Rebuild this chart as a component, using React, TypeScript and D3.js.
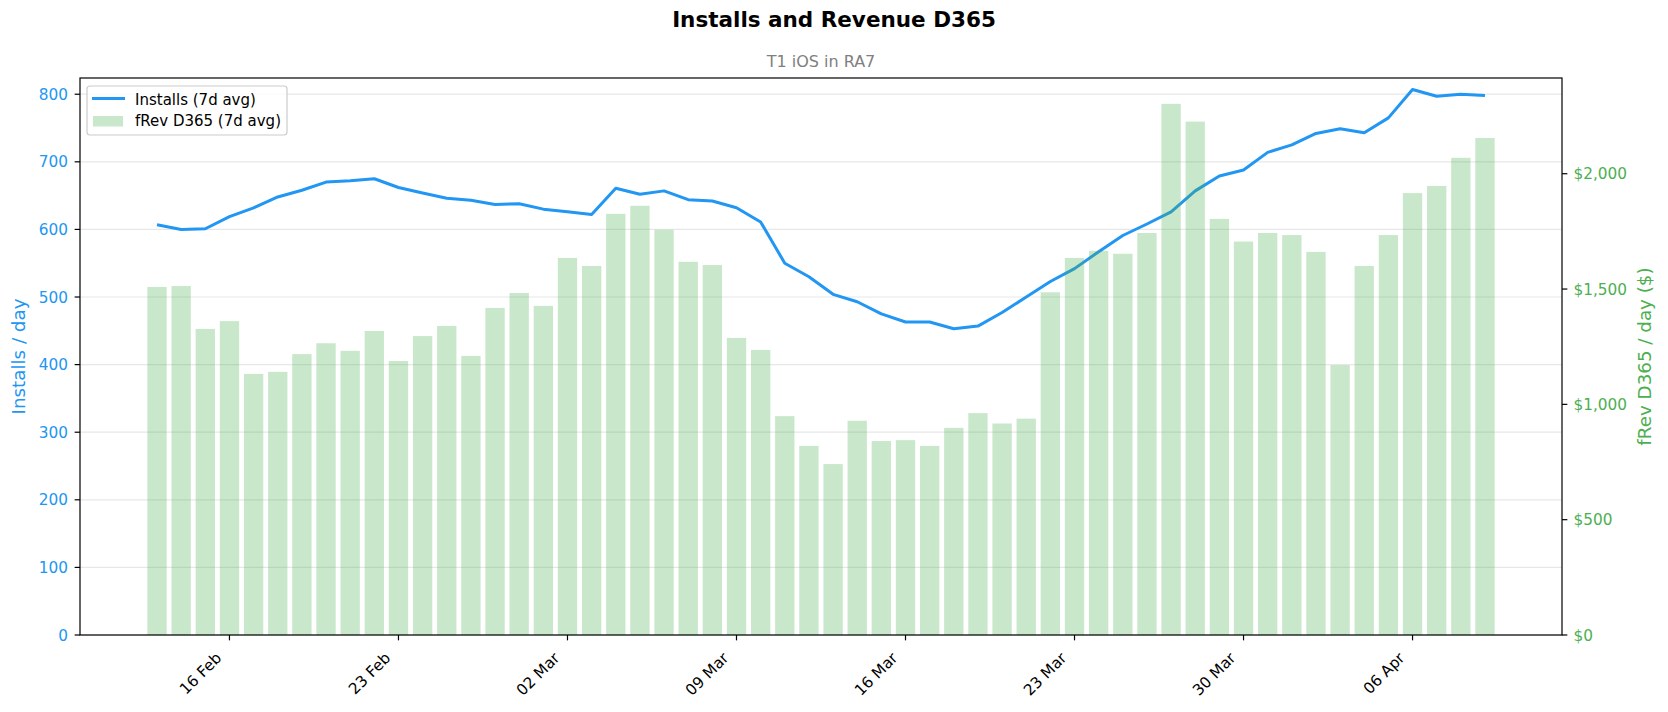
import React from "react";
import * as d3 from "d3";

const DATES = [
  "2025-02-13", "2025-02-14", "2025-02-15", "2025-02-16", "2025-02-17", "2025-02-18", "2025-02-19",
  "2025-02-20", "2025-02-21", "2025-02-22", "2025-02-23", "2025-02-24", "2025-02-25", "2025-02-26",
  "2025-02-27", "2025-02-28", "2025-03-01", "2025-03-02", "2025-03-03", "2025-03-04", "2025-03-05",
  "2025-03-06", "2025-03-07", "2025-03-08", "2025-03-09", "2025-03-10", "2025-03-11", "2025-03-12",
  "2025-03-13", "2025-03-14", "2025-03-15", "2025-03-16", "2025-03-17", "2025-03-18", "2025-03-19",
  "2025-03-20", "2025-03-21", "2025-03-22", "2025-03-23", "2025-03-24", "2025-03-25", "2025-03-26",
  "2025-03-27", "2025-03-28", "2025-03-29", "2025-03-30", "2025-03-31", "2025-04-01", "2025-04-02",
  "2025-04-03", "2025-04-04", "2025-04-05", "2025-04-06", "2025-04-07", "2025-04-08", "2025-04-09",
];

const INSTALLS = [
  607, 600, 601, 619, 632, 648, 658, 670, 672, 675, 662, 654, 646, 643,
  637, 638, 630, 626, 622, 661, 652, 657, 644, 642, 632, 611, 550, 530,
  504, 493, 475, 463, 463, 453, 457, 477, 500, 523, 542, 567, 591, 608,
  626, 657, 679, 688, 714, 725, 742, 749, 743, 765, 807, 797, 800, 798,
];

const REVENUE = [
  1509, 1513, 1327, 1361, 1132, 1141, 1218, 1265, 1232, 1318, 1188, 1296, 1340, 1210,
  1418, 1483, 1427, 1635, 1600, 1826, 1861, 1757, 1618, 1604, 1288, 1236, 949, 820,
  741, 929, 841, 845, 820, 898, 962, 917, 938, 1486, 1635, 1666, 1653, 1743,
  2303, 2226, 1804, 1706, 1743, 1734, 1661, 1170, 1600, 1734, 1916, 1947, 2069, 2155,
];

const X_TICKS = [
  "2025-02-16", "2025-02-23", "2025-03-02", "2025-03-09",
  "2025-03-16", "2025-03-23", "2025-03-30", "2025-04-06",
];
const LEFT_TICKS = [0, 100, 200, 300, 400, 500, 600, 700, 800];
const RIGHT_TICKS = [0, 500, 1000, 1500, 2000];

const TITLE = "Installs and Revenue D365";
const SUBTITLE = "T1 iOS in RA7";
const LEFT_LABEL = "Installs / day";
const RIGHT_LABEL = "fRev D365 / day ($)";
const LEGEND_LINE = "Installs (7d avg)";
const LEGEND_BAR = "fRev D365 (7d avg)";

const W = 1668;
const H = 712;
const PLOT = { left: 80, right: 1562, top: 78, bottom: 635 };
const BLUE = "#2196F3";
const GREEN = "#4CAF50";
const FONT = "'DejaVu Sans', Verdana, sans-serif";
const DAY = 86400000;

const parse = d3.utcParse("%Y-%m-%d");
const fmtDate = d3.utcFormat("%d %b");
const fmtMoney = (v: number) => "$" + d3.format(",")(v);

export default function App() {
  const dates = DATES.map((s) => parse(s) as Date);
  const pad = 3.19 * DAY;
  const x = d3
    .scaleUtc()
    .domain([new Date(+dates[0] - pad), new Date(+dates[dates.length - 1] + pad)])
    .range([PLOT.left, PLOT.right]);
  const yL = d3.scaleLinear().domain([0, 824]).range([PLOT.bottom, PLOT.top]);
  const yR = d3.scaleLinear().domain([0, 2415]).range([PLOT.bottom, PLOT.top]);
  const barW = x(new Date(+dates[0] + 0.8 * DAY)) - x(dates[0]);

  const linePath = d3
    .line<number>()
    .x((_, i) => x(dates[i]))
    .y((d) => yL(d))(INSTALLS) as string;

  const tickLen = 5.35;
  const tickFont = 15.3;

  return (
    <svg
      width={W}
      height={H}
      viewBox={`0 0 ${W} ${H}`}
      style={{ position: "absolute", left: 0, top: 0, background: "#fff" }}
      fontFamily={FONT}
    >
      <rect x={0} y={0} width={W} height={H} fill="#fff" />

      {/* grid */}
      {LEFT_TICKS.map((t) => (
        <line
          key={"g" + t}
          x1={PLOT.left}
          x2={PLOT.right}
          y1={yL(t)}
          y2={yL(t)}
          stroke="#b0b0b0"
          strokeOpacity={0.3}
          strokeWidth={1.2}
        />
      ))}

      {/* installs line (below bars, as in twin axes) */}
      <path d={linePath} fill="none" stroke={BLUE} strokeWidth={3} strokeLinejoin="round" strokeLinecap="butt" />

      {/* revenue bars */}
      {REVENUE.map((v, i) => (
        <rect
          key={"b" + i}
          x={x(dates[i]) - barW / 2}
          y={yR(v)}
          width={barW}
          height={yR(0) - yR(v)}
          fill={GREEN}
          fillOpacity={0.3}
        />
      ))}

      {/* spines */}
      <rect
        x={PLOT.left}
        y={PLOT.top}
        width={PLOT.right - PLOT.left}
        height={PLOT.bottom - PLOT.top}
        fill="none"
        stroke="#000"
        strokeWidth={1.2}
      />

      {/* left axis */}
      {LEFT_TICKS.map((t) => (
        <g key={"l" + t}>
          <line x1={PLOT.left - tickLen} x2={PLOT.left} y1={yL(t)} y2={yL(t)} stroke="#000" strokeWidth={1.2} />
          <text x={PLOT.left - 12} y={yL(t) + 5.5} textAnchor="end" fontSize={tickFont} fill={BLUE}>
            {t}
          </text>
        </g>
      ))}
      <text
        transform={`translate(25,${(PLOT.top + PLOT.bottom) / 2}) rotate(-90)`}
        textAnchor="middle"
        fontSize={18.3}
        fill={BLUE}
      >
        {LEFT_LABEL}
      </text>

      {/* right axis */}
      {RIGHT_TICKS.map((t) => (
        <g key={"r" + t}>
          <line x1={PLOT.right} x2={PLOT.right + tickLen} y1={yR(t)} y2={yR(t)} stroke="#000" strokeWidth={1.2} />
          <text x={PLOT.right + 11.5} y={yR(t) + 5.5} textAnchor="start" fontSize={tickFont} fill={GREEN}>
            {fmtMoney(t)}
          </text>
        </g>
      ))}
      <text
        transform={`translate(1651,${(PLOT.top + PLOT.bottom) / 2}) rotate(-90)`}
        textAnchor="middle"
        fontSize={18.3}
        fill={GREEN}
      >
        {RIGHT_LABEL}
      </text>

      {/* bottom axis */}
      {X_TICKS.map((s) => {
        const d = parse(s) as Date;
        const tx = x(d);
        return (
          <g key={"x" + s}>
            <line x1={tx} x2={tx} y1={PLOT.bottom} y2={PLOT.bottom + tickLen} stroke="#000" strokeWidth={1.2} />
            <text
              transform={`translate(${tx - 7},659) rotate(-45)`}
              textAnchor="end"
              fontSize={tickFont}
              fill="#000"
            >
              {fmtDate(d)}
            </text>
          </g>
        );
      })}

      {/* titles */}
      <text x={W / 2} y={27} textAnchor="middle" fontSize={21.5} fontWeight="bold" fill="#000">
        {TITLE}
      </text>
      <text x={(PLOT.left + PLOT.right) / 2} y={67} textAnchor="middle" fontSize={16} fill="#808080">
        {SUBTITLE}
      </text>

      {/* legend */}
      <g>
        <rect x={87} y={86} width={200} height={49} rx={3} fill="#fff" fillOpacity={0.8} stroke="#cccccc" strokeWidth={1.2} />
        <line x1={92} x2={125} y1={98.5} y2={98.5} stroke={BLUE} strokeWidth={3} />
        <text x={135} y={104.5} fontSize={15} fill="#000">
          {LEGEND_LINE}
        </text>
        <rect x={93} y={116} width={30} height={10.5} fill={GREEN} fillOpacity={0.3} />
        <text x={135} y={126} fontSize={15} fill="#000">
          {LEGEND_BAR}
        </text>
      </g>
    </svg>
  );
}
